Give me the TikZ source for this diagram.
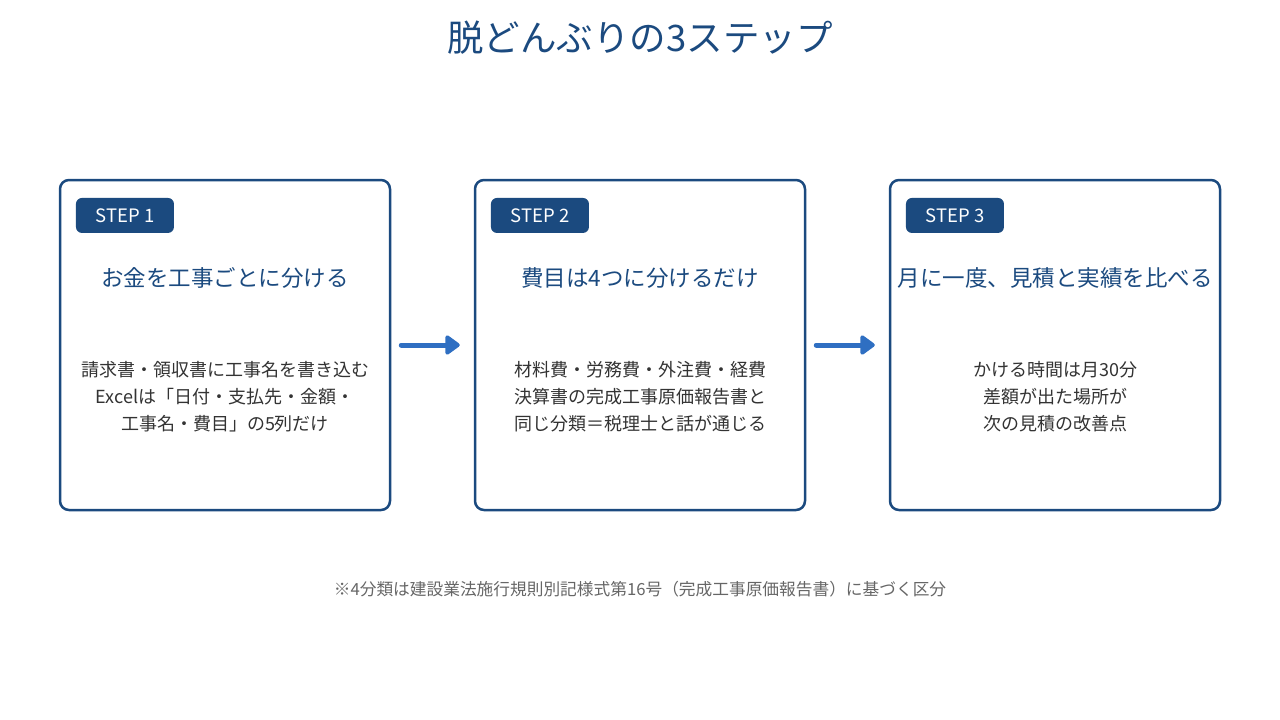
\documentclass[tikz,border=0pt]{standalone}
\usepackage{fontspec}
\setmainfont{Noto Sans CJK JP}
\usetikzlibrary{arrows.meta, positioning}
\definecolor{stepnavy}{HTML}{1B4A7F}
\definecolor{flowblue}{HTML}{2F6FC2}
\definecolor{bodyink}{HTML}{333333}
\definecolor{noteink}{HTML}{666666}
\tikzset{
  stepcard/.style={rectangle, draw=stepnavy, line width=2.5pt, rounded corners=9pt,
                   minimum width=330pt, minimum height=330pt, fill=white},
  stepbadge/.style={rectangle, fill=stepnavy, rounded corners=6pt, text=white,
                    minimum width=98pt, minimum height=35pt, inner sep=0pt,
                    font=\fontsize{18.5}{20}\selectfont},
  stephead/.style={text=stepnavy, font=\fontsize{22.5}{24}\selectfont},
  stepbody/.style={text=bodyink, align=center, font=\fontsize{18}{27}\selectfont},
  flowarrow/.style={-{Triangle[length=16pt, width=22pt, round]}, draw=flowblue,
                    line width=5pt, line cap=round, shorten <=10pt, shorten >=14pt},
}

\begin{document}
\begin{tikzpicture}[x=1pt, y=-1pt]
  \useasboundingbox (0,0) rectangle (1280,720);
  \node[text=stepnavy, font=\fontsize{36.5}{40}\selectfont] (title) at (640,38)
    {脱どんぶりの3ステップ};

  % three cards
  \node[stepcard] (card1) at (225,345) {};
  \node[stepcard] (card2) at (640,345) {};
  \node[stepcard] (card3) at (1055,345) {};

  \node[stepbadge, below right=19pt and 17pt of card1.north west] (badge1) {STEP 1};
  \node[stepbadge, below right=19pt and 17pt of card2.north west] (badge2) {STEP 2};
  \node[stepbadge, below right=19pt and 17pt of card3.north west] (badge3) {STEP 3};

  \node[stephead] (head1) at (225,278) {お金を工事ごとに分ける};
  \node[stephead] (head2) at (640,278) {費目は4つに分けるだけ};
  \node[stephead] (head3) at (1055,278) {月に一度、見積と実績を比べる};

  \node[stepbody] (body1) at (225,397)
    {請求書・領収書に工事名を書き込む\\Excelは「日付・支払先・金額・\\工事名・費目」の5列だけ};
  \node[stepbody] (body2) at (640,397)
    {材料費・労務費・外注費・経費\\決算書の完成工事原価報告書と\\同じ分類＝税理士と話が通じる};
  \node[stepbody] (body3) at (1055,397)
    {かける時間は月30分\\差額が出た場所が\\次の見積の改善点};

  \draw[flowarrow] (card1.east) -- (card2.west);
  \draw[flowarrow] (card2.east) -- (card3.west);

  \node[text=noteink, font=\fontsize{16.7}{20}\selectfont] (note) at (640,589)
    {※4分類は建設業法施行規則別記様式第16号（完成工事原価報告書）に基づく区分};
\end{tikzpicture}
\end{document}
